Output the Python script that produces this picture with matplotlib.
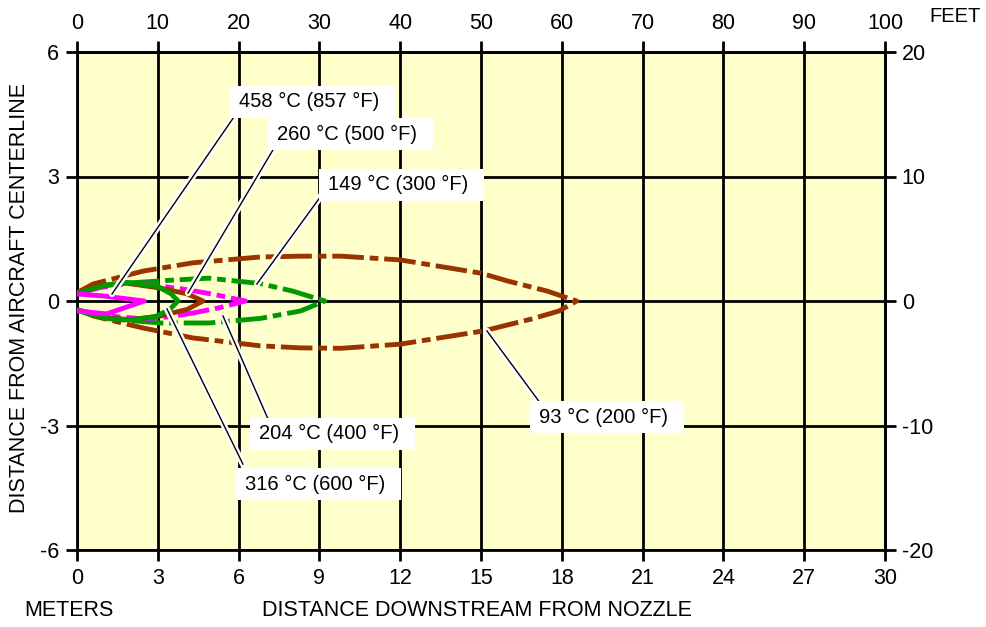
import numpy as np
import matplotlib
matplotlib.use("Agg")
import matplotlib.pyplot as plt
from matplotlib.patches import Rectangle
from matplotlib.transforms import IdentityTransform

plt.rcParams['font.family'] = ['Liberation Sans', 'DejaVu Sans']
plt.rcParams['axes.unicode_minus'] = False

# contour outlines (meters): upper side then lower side
c93_x = [0, 0.6, 2.45, 4.3, 6.8, 8.3, 9.8, 12.0, 15.0, 16.0, 17.45, 18.55,
         17.9, 16.9, 15.1, 12.0, 9.8, 8.3, 6.8, 4.3, 2.45, 0.6, 0]
c93_y = [0.2, 0.41, 0.72, 0.92, 1.06, 1.08, 1.08, 0.99, 0.67, 0.48, 0.24, 0,
         -0.24, -0.43, -0.72, -1.04, -1.14, -1.13, -1.08, -0.89, -0.65, -0.36, -0.2]

c149_x = [0, 0.8, 1.6, 3.45, 4.9, 6.8, 8.0, 9.2,
          8.3, 6.8, 4.9, 3.1, 1.6, 0.8, 0]
c149_y = [0.18, 0.33, 0.42, 0.5, 0.55, 0.42, 0.24, 0,
          -0.24, -0.42, -0.53, -0.53, -0.45, -0.36, -0.22]

c204_x = [0, 0.9, 1.97, 3.0, 4.0, 5.0, 5.8, 6.25,
          5.3, 4.3, 3.45, 2.45, 1.5, 0.7, 0]
c204_y = [0.18, 0.33, 0.42, 0.37, 0.28, 0.17, 0.06, 0,
          -0.16, -0.29, -0.38, -0.43, -0.38, -0.3, -0.22]

c260_x = [0, 0.8, 1.85, 3.1, 4.1, 4.68,
          4.1, 3.1, 2.0, 1.0, 0]
c260_y = [0.18, 0.35, 0.43, 0.31, 0.17, 0,
          -0.2, -0.36, -0.45, -0.4, -0.22]

c316_x = [0, 1.0, 1.85, 3.0, 3.5, 3.75,
          3.45, 2.9, 2.0, 1.2, 0.5, 0]
c316_y = [0.18, 0.38, 0.45, 0.35, 0.17, 0,
          -0.2, -0.38, -0.45, -0.43, -0.32, -0.22]

c458_x = [0, 1.0, 2.5, 1.1, 0]
c458_y = [0.17, 0.12, 0, -0.31, -0.24]

labels = ["93 °C (200 °F)", "149 °C (300 °F)", "204 °C (400 °F)",
          "260 °C (500 °F)", "316 °C (600 °F)", "458 °C (857 °F)"]

meter_ticks = [0, 3, 6, 9, 12, 15, 18, 21, 24, 27, 30]
meter_yticks = [-6, -3, 0, 3, 6]
feet_xticks = [0, 10, 20, 30, 40, 50, 60, 70, 80, 90, 100]
feet_yticks = [-20, -10, 0, 10, 20]

brown = '#993300'
green = '#009900'
magenta = '#ff00ff'
dashdot = (0, (6.5, 1.2, 1.8, 1.2))

fig = plt.figure(figsize=(9.86, 6.27), dpi=100)
ax = fig.add_axes([77/986, 1-550/627, (885-77)/986, (550-52)/627])
ax.set_facecolor('#ffffcc')
ax.set_xlim(0, 30)
ax.set_ylim(-6, 6)

ax.set_xticks(meter_ticks)
ax.set_yticks(meter_yticks)
ax.grid(True, color='black', lw=2)
ax.set_axisbelow(True)
ax.tick_params(direction='out', length=8, width=2, labelsize=15.5, pad=5, color='black')
for s in ax.spines.values():
    s.set_linewidth(2)

lw = 3.5
ax.plot(c93_x, c93_y, color=brown, lw=lw, ls=dashdot, zorder=3)
ax.plot(c149_x, c149_y, color=green, lw=lw, ls=dashdot, zorder=3)
ax.plot(c204_x, c204_y, color=magenta, lw=lw, ls=dashdot, zorder=3)
ax.plot(c260_x, c260_y, color=brown, lw=lw, zorder=4)
ax.plot(c316_x, c316_y, color=green, lw=lw, zorder=4)
ax.plot(c458_x, c458_y, color=magenta, lw=lw, zorder=4)

# label text position, leader start, leader end
label_pos = [(17.16, -2.8), (9.32, 2.8), (6.76, -3.2), (7.43, 4.02), (6.24, -4.41), (6.02, 4.8)]
leader_from = [(17.2, -2.46), (9.25, 2.7), (7.09, -2.84), (7.43, 3.81), (6.16, -3.93), (5.95, 4.55)]
leader_to = [(15.22, -0.72), (6.68, 0.41), (5.42, -0.36), (4.12, 0.19), (3.34, -0.19), (1.3, 0.17)]

texts = []
for lab, p, a, b in zip(labels, label_pos, leader_from, leader_to):
    ax.plot([a[0], b[0]], [a[1], b[1]], color='white', lw=4.5, solid_capstyle='round', zorder=5)
    ax.plot([a[0], b[0]], [a[1], b[1]], color='black', lw=1, zorder=6)
    texts.append(ax.text(p[0], p[1], lab, fontsize=14.5, ha='left', va='center', zorder=8))

top = ax.secondary_xaxis('top', functions=(lambda x: x * 100 / 30, lambda f: f * 30 / 100))
top.set_xticks(feet_xticks)
top.tick_params(direction='out', length=8, width=2, labelsize=15.5, pad=5)
right = ax.secondary_yaxis('right', functions=(lambda y: y * 20 / 6, lambda f: f * 6 / 20))
right.set_yticks(feet_yticks)
right.tick_params(direction='out', length=8, width=2, labelsize=15.5, pad=4)
for s in list(top.spines.values()) + list(right.spines.values()):
    s.set_linewidth(2)

fig.text(477/986, 1-610/627, 'DISTANCE DOWNSTREAM FROM NOZZLE', fontsize=15.5, ha='center', va='center')
fig.text(24/986, 1-610/627, 'METERS', fontsize=15.5, ha='left', va='center')
fig.text(981/986, 1-16/627, 'FEET', fontsize=14.5, ha='right', va='center')
fig.text(20/986, 1-298/627, 'DISTANCE FROM AIRCRAFT CENTERLINE', fontsize=15.5,
         rotation=90, ha='center', va='center')

# white label boxes, wider on the right like the original
fig.canvas.draw()
r = fig.canvas.get_renderer()
for t in texts:
    bb = t.get_window_extent(renderer=r)
    cy = (bb.y0 + bb.y1) / 2
    box = Rectangle((bb.x0 - 9, cy - 16), bb.width + 25, 32, transform=IdentityTransform(),
                    fc='white', ec='none', zorder=7)
    ax.add_artist(box)

fig.savefig('out.png', dpi=100)
